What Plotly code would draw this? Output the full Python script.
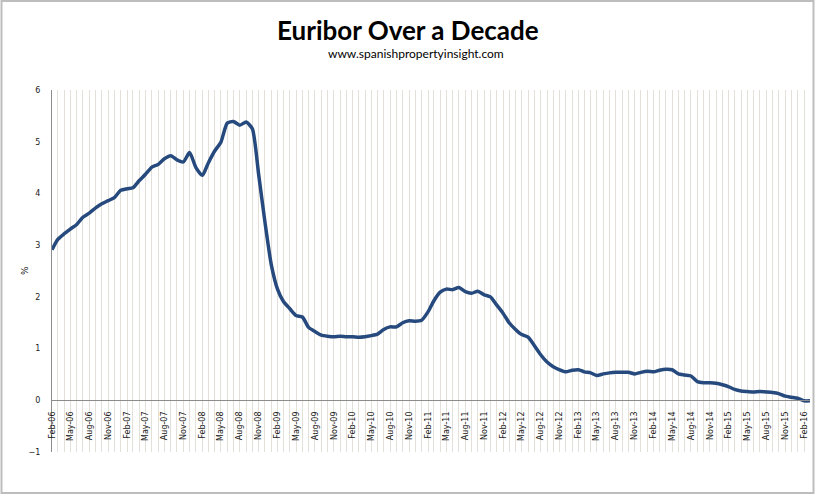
import pandas as pd
import plotly.graph_objects as go

# 12-month Euribor, monthly, Feb-06 .. Mar-16
euribor = [
    2.91, 3.11, 3.22, 3.31, 3.40, 3.54, 3.62, 3.72, 3.80, 3.86, 3.92,          # Feb-06..Dec-06
    4.06, 4.09, 4.11, 4.25, 4.37, 4.51, 4.56, 4.67, 4.73, 4.65, 4.61, 4.79,    # 2007
    4.50, 4.35, 4.59, 4.82, 4.99, 5.36, 5.39, 5.32, 5.38, 5.25, 4.35, 3.45,    # 2008
    2.62, 2.14, 1.91, 1.77, 1.64, 1.61, 1.41, 1.33, 1.26, 1.24, 1.23, 1.24,    # 2009
    1.23, 1.23, 1.22, 1.23, 1.25, 1.28, 1.37, 1.42, 1.42, 1.50, 1.54, 1.53,    # 2010
    1.55, 1.71, 1.92, 2.09, 2.15, 2.14, 2.18, 2.10, 2.07, 2.11, 2.04, 2.00,    # 2011
    1.84, 1.68, 1.50, 1.37, 1.27, 1.22, 1.06, 0.88, 0.74, 0.65, 0.59, 0.55,    # 2012
    0.58, 0.59, 0.55, 0.53, 0.48, 0.51, 0.53, 0.54, 0.54, 0.54, 0.51, 0.54,    # 2013
    0.56, 0.55, 0.58, 0.60, 0.59, 0.51, 0.49, 0.47, 0.36, 0.34, 0.34, 0.33,    # 2014
    0.30, 0.26, 0.21, 0.18, 0.17, 0.16, 0.17, 0.16, 0.15, 0.13, 0.08, 0.06,    # 2015
    0.04, -0.01, -0.01,                                                         # 2016
]
start_month = "2006-02-01"
months = pd.date_range(start_month, periods=len(euribor), freq="MS")

title_text = "Euribor Over a Decade"
subtitle_text = "www.spanishpropertyinsight.com"
y_title = "%"
y_range = [-1, 6]

line_color = "#264a7d"
grid_color = "#e2e0d8"
axis_color = "#8c8c8c"

fig = go.Figure()
fig.add_trace(go.Scatter(
    x=months, y=euribor, mode="lines",
    line=dict(color=line_color, width=3.5, shape="spline", smoothing=0.6),
    hoverinfo="x+y", showlegend=False,
))

W, H = 816, 495
L, R, T, B = 52, 6, 90, 43
PW, PH = W - L - R, H - T - B

def px_x(p):
    return (p - L) / PW

def px_y(p):
    return (H - B - p) / PH

fig.update_layout(
    width=W, height=H,
    margin=dict(l=L, r=R, t=T, b=B, pad=0, autoexpand=False),
    paper_bgcolor="white", plot_bgcolor="white",
    font=dict(family="DejaVu Sans", size=8, color="#222"),
    xaxis=dict(
        type="date",
        range=[months[0], months[-1]],
        anchor="free",
        position=(0 - y_range[0]) / (y_range[1] - y_range[0]),
        tick0=start_month, dtick="M3", tickformat="%b-%y",
        tickangle=-90,
        showgrid=True, gridcolor=grid_color, gridwidth=1,
        minor=dict(dtick="M1", showgrid=True, gridcolor=grid_color, gridwidth=1),
        showline=True, linecolor=axis_color, linewidth=1,
        ticks="", ticklabelstandoff=7,
        tickfont=dict(family="DejaVu Sans", size=8, color="#222"),
        zeroline=False,
    ),
    yaxis=dict(
        range=y_range, dtick=1, tick0=0,
        showgrid=False,
        zeroline=True, zerolinecolor=axis_color, zerolinewidth=1,
        showline=True, linecolor=axis_color, linewidth=1,
        ticks="", ticklabelstandoff=9,
        tickfont=dict(family="DejaVu Sans", size=8, color="#222"),
    ),
    annotations=[
        dict(text="<b>" + title_text + "</b>", xref="paper", yref="paper",
             x=px_x(407.5), y=px_y(30),
             yanchor="middle", xanchor="center", showarrow=False,
             font=dict(family="Lato", size=26, color="black")),
        dict(text=subtitle_text, xref="paper", yref="paper",
             x=px_x(415.5), y=px_y(53),
             yanchor="middle", xanchor="center", showarrow=False,
             font=dict(family="Lato", size=12, color="black")),
        dict(text=y_title, xref="paper", yref="paper",
             x=px_x(25), y=px_y(270), textangle=-90,
             yanchor="middle", xanchor="center", showarrow=False,
             font=dict(family="DejaVu Sans", size=9, color="#222")),
    ],
    shapes=[
        dict(type="rect", xref="paper", yref="paper",
             x0=px_x(1.5), x1=px_x(813.5),
             y0=px_y(493), y1=px_y(1),
             line=dict(color="#bdbdbd", width=2), layer="below"),
    ],
)

fig.write_html("out.html", config={"displayModeBar": False},
               post_script="document.body.style.margin='0';")
